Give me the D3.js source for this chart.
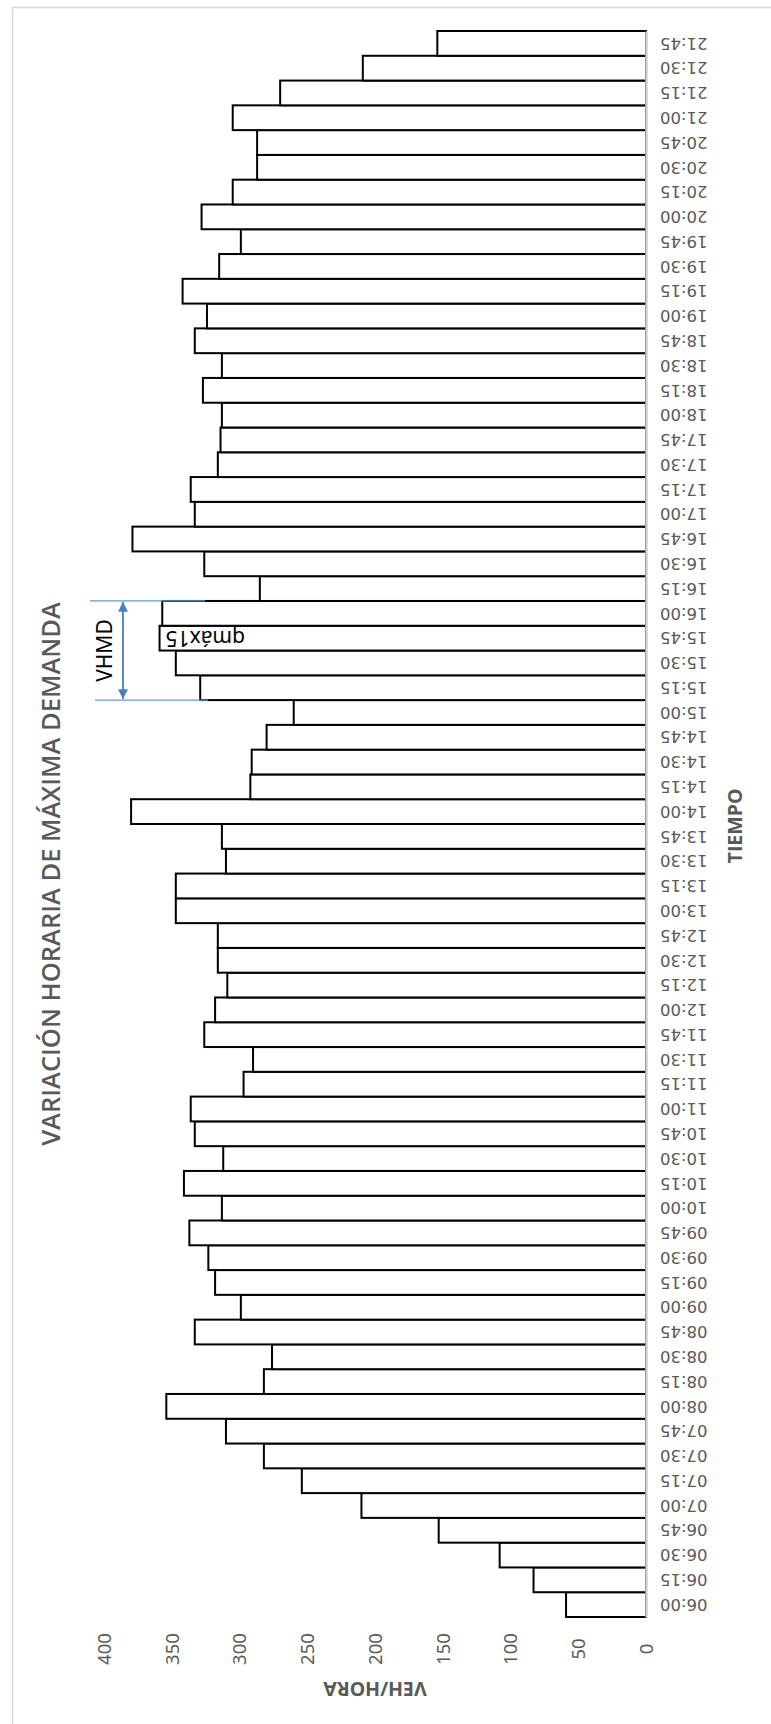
<!DOCTYPE html>
<html lang="es">
<head>
  <meta charset="UTF-8">
  <title>Variación horaria de máxima demanda</title>
  <script src="https://d3js.org/d3.v7.min.js"></script>
  <style>
    body, html {
      margin: 0;
      padding: 0;
      background: #fff;
    }
    svg {
      display: block;
    }
    .tick-val text {
      font-family: "Noto Sans", sans-serif;
      font-size: 18.5px;
      fill: #595959;
    }
    .tick-time text {
      font-family: "DejaVu Sans", sans-serif;
      font-size: 16.5px;
      fill: #595959;
    }
    .title {
      font-family: "Open Sans", sans-serif;
      font-size: 25.5px;
      font-weight: 600;
      fill: #595959;
    }
    .axis-title {
      font-family: "Open Sans", sans-serif;
      font-size: 19.5px;
      font-weight: 700;
      fill: #595959;
    }
    .note {
      font-family: "Noto Sans", sans-serif;
      font-size: 21px;
      fill: #000;
    }
  </style>
</head>
<body>
  <svg width="771" height="1724"></svg>

  <script>
    // 15-minute intervals, 06:00 -> 21:45
    const times = [
      "06:00","06:15","06:30","06:45","07:00","07:15","07:30","07:45",
      "08:00","08:15","08:30","08:45","09:00","09:15","09:30","09:45",
      "10:00","10:15","10:30","10:45","11:00","11:15","11:30","11:45",
      "12:00","12:15","12:30","12:45","13:00","13:15","13:30","13:45",
      "14:00","14:15","14:30","14:45","15:00","15:15","15:30","15:45",
      "16:00","16:15","16:30","16:45","17:00","17:15","17:30","17:45",
      "18:00","18:15","18:30","18:45","19:00","19:15","19:30","19:45",
      "20:00","20:15","20:30","20:45","21:00","21:15","21:30","21:45"
    ];
    const vehHora = [
      59, 83, 108, 153, 210, 254, 282, 310,
      354, 282, 276, 333, 299, 318, 323, 337,
      313, 341, 312, 333, 336, 297, 290, 326,
      318, 309, 316, 316, 347, 347, 310, 313,
      380, 292, 291, 280, 260, 329, 347, 359,
      357, 285, 326, 379, 333, 336, 316, 314,
      313, 327, 313, 333, 324, 342, 315, 299,
      328, 305, 287, 287, 305, 270, 209, 154
    ];
    const valueTicks = [0, 50, 100, 150, 200, 250, 300, 350, 400];

    const svg = d3.select("svg");

    // chart is drawn turned a quarter turn: time runs bottom -> top, values grow leftwards
    const x = d3.scaleLinear().domain([0, 400]).range([646, 104]);
    const y = d3.scaleBand().domain(times).range([1617, 31]).padding(0);

    // outer frame
    svg.append("rect")
      .attr("x", 12.5).attr("y", 7.5)
      .attr("width", 800).attr("height", 1800)
      .attr("fill", "none")
      .attr("stroke", "#d9d9d9")
      .attr("stroke-width", 1.5);

    svg.append("g")
      .selectAll("rect")
      .data(times)
      .enter().append("rect")
      .attr("x", (d, i) => x(vehHora[i]))
      .attr("y", d => y(d))
      .attr("width", (d, i) => x(0) - x(vehHora[i]))
      .attr("height", y.bandwidth())
      .attr("fill", "#fff")
      .attr("stroke", "#000")
      .attr("stroke-width", 2);

    // value axis (at the bottom, labels turned)
    const axVal = svg.append("g")
      .attr("class", "tick-val")
      .attr("transform", "translate(0,1649)")
      .call(d3.axisBottom(x).tickValues(valueTicks).tickSize(0));
    axVal.select(".domain").remove();
    axVal.selectAll("text")
      .attr("x", 0).attr("y", 0)
      .attr("dy", "0.35em")
      .attr("transform", "rotate(-90)")
      .style("text-anchor", "middle");

    // time axis (at the right, labels upside down)
    const axTime = svg.append("g")
      .attr("class", "tick-time")
      .attr("transform", `translate(${x(0)},0)`)
      .call(d3.axisRight(y).tickSize(0));
    axTime.select(".domain")
      .attr("stroke", "#d0d0d0")
      .attr("stroke-width", 2.5);
    axTime.selectAll("text")
      .attr("x", 0).attr("y", 0)
      .attr("dy", "0.35em")
      .attr("transform", "translate(14,0) rotate(180)")
      .style("text-anchor", "end");

    // titles
    svg.append("text")
      .attr("class", "title")
      .attr("transform", "translate(51,874) rotate(-90)")
      .attr("dy", "0.35em")
      .attr("text-anchor", "middle")
      .text("VARIACIÓN HORARIA DE MÁXIMA DEMANDA");

    svg.append("text")
      .attr("class", "axis-title")
      .attr("transform", "translate(735,826) rotate(-90)")
      .attr("dy", "0.35em")
      .attr("text-anchor", "middle")
      .text("TIEMPO");

    svg.append("text")
      .attr("class", "axis-title")
      .attr("transform", `translate(${(x(0) + x(400)) / 2},1689) rotate(180)`)
      .attr("dy", "0.35em")
      .attr("text-anchor", "middle")
      .text("VEH/HORA");

    // VHMD bracket: from the top of 16:00 down to the bottom of 15:15
    const yTop = y("16:00");
    const yBot = y("15:15") + y.bandwidth();
    const blue = "#5b9bd5";
    svg.append("line")
      .attr("x1", 90).attr("x2", 205)
      .attr("y1", yTop).attr("y2", yTop)
      .attr("stroke", blue).attr("stroke-width", 1.2);
    svg.append("line")
      .attr("x1", 95).attr("x2", 208)
      .attr("y1", yBot).attr("y2", yBot)
      .attr("stroke", blue).attr("stroke-width", 1.2);

    const defs = svg.append("defs");
    defs.append("marker")
      .attr("id", "arrow")
      .attr("viewBox", "0 0 10 10")
      .attr("refX", 10).attr("refY", 5)
      .attr("markerWidth", 6).attr("markerHeight", 5.5)
      .attr("markerUnits", "strokeWidth")
      .attr("orient", "auto-start-reverse")
      .append("path")
      .attr("d", "M0,0 L10,5 L0,10 Z")
      .attr("fill", "#4a7ebb");

    svg.append("line")
      .attr("x1", 123).attr("x2", 123)
      .attr("y1", yTop + 1).attr("y2", yBot - 1)
      .attr("stroke", "#4a7ebb").attr("stroke-width", 1.8)
      .attr("marker-start", "url(#arrow)")
      .attr("marker-end", "url(#arrow)");

    svg.append("text")
      .attr("class", "note")
      .attr("transform", `translate(105,${(yTop + yBot) / 2}) rotate(-90)`)
      .attr("dy", "0.35em")
      .attr("text-anchor", "middle")
      .text("VHMD");

    const iMax = times.indexOf("15:45");
    svg.append("text")
      .attr("class", "note")
      .attr("transform", `translate(${x(vehHora[iMax]) + 6},${y("15:45") + y.bandwidth() / 2}) rotate(180)`)
      .attr("dy", "0.35em")
      .attr("text-anchor", "end")
      .text("qmáx15");
  </script>
</body>
</html>
